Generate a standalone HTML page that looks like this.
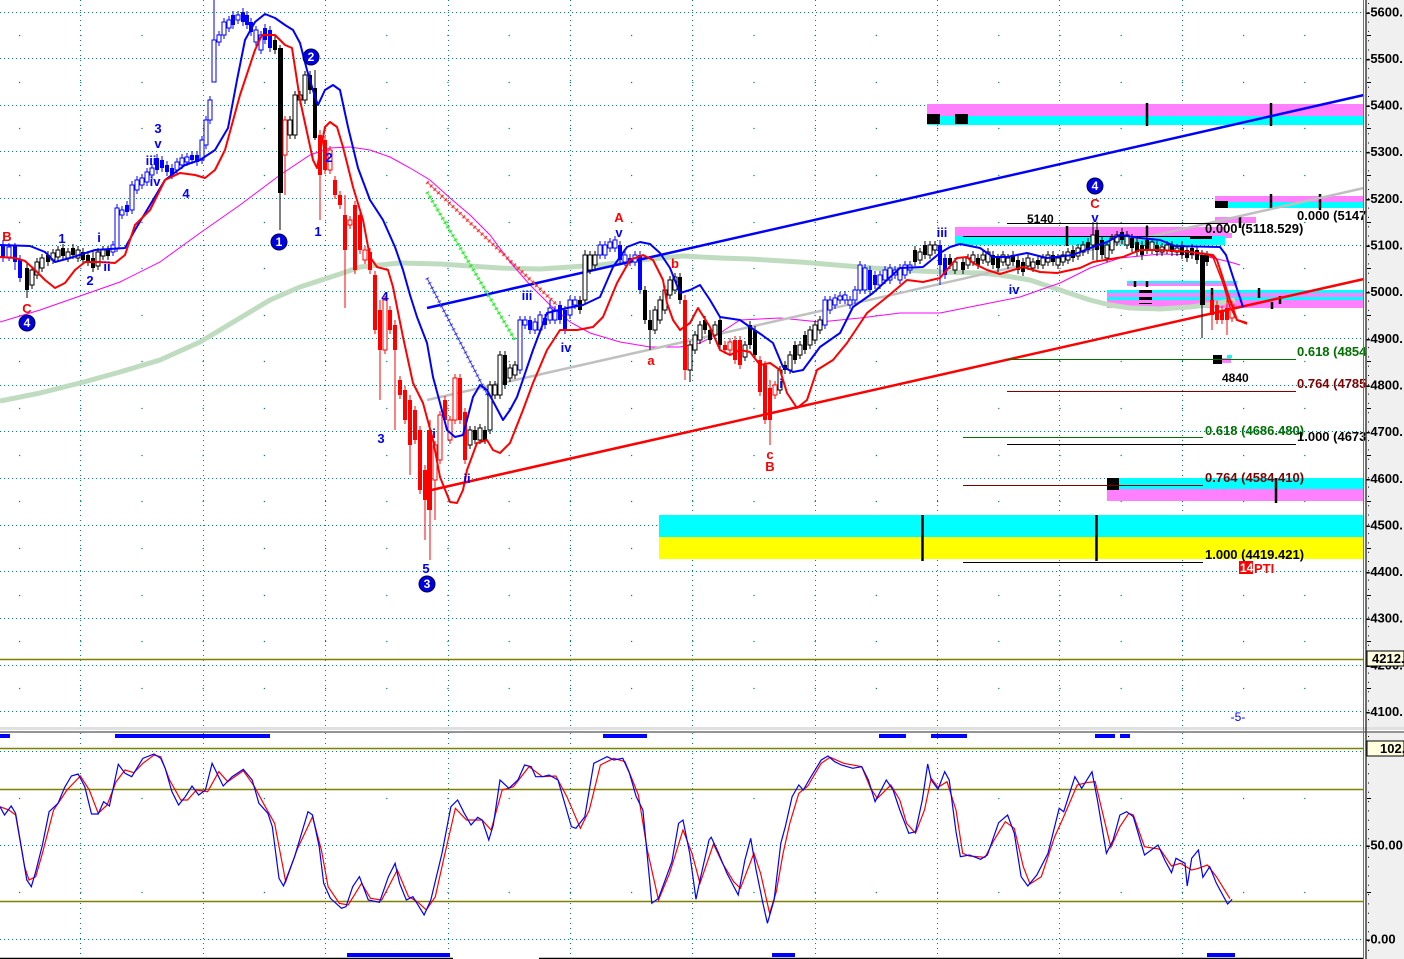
<!DOCTYPE html>
<html><head><meta charset="utf-8"><style>
html,body{margin:0;padding:0;background:#fff;overflow:hidden}
svg{display:block}
.wl{font:bold 13px "Liberation Sans",sans-serif;text-anchor:middle}
.fb{font:bold 13px "Liberation Sans",sans-serif}
.ax{font:bold 13px "Liberation Sans",sans-serif;fill:#000}
</style></head><body>
<svg width="1404" height="959" viewBox="0 0 1404 959" xmlns="http://www.w3.org/2000/svg">
<rect width="1404" height="959" fill="#fff"/>
<!-- main grid -->
<path d="M0 12.5H1364M0 58.5H1364M0 105.5H1364M0 151.5H1364M0 198.5H1364M0 245.5H1364M0 291.5H1364M0 338.5H1364M0 385.5H1364M0 431.5H1364M0 478.5H1364M0 525.5H1364M0 571.5H1364M0 618.5H1364M0 665.5H1364M0 711.5H1364" stroke="#008080" stroke-width="1" stroke-dasharray="1 3" fill="none"/>
<path d="M19 35.5H1364M19 82.5H1364M19 128.5H1364M19 175.5H1364M19 222.5H1364M19 268.5H1364M19 315.5H1364M19 361.5H1364M19 408.5H1364M19 455.5H1364M19 501.5H1364M19 548.5H1364M19 595.5H1364M19 641.5H1364M19 688.5H1364" stroke="#008080" stroke-width="1.2" stroke-dasharray="1.2 60" fill="none"/>
<path d="M80.5 0V727M203.5 0V727M325.5 0V727M448.5 0V727M570.5 0V727M692.5 0V727M815.5 0V727M937.5 0V727M1059.5 0V727M1182.5 0V727" stroke="#008080" stroke-width="1" stroke-dasharray="1 4" fill="none"/>
<!-- lower grid -->
<path d="M80.5 733V959M203.5 733V959M325.5 733V959M448.5 733V959M570.5 733V959M692.5 733V959M815.5 733V959M937.5 733V959M1059.5 733V959M1182.5 733V959" stroke="#008080" stroke-width="1" stroke-dasharray="1 4" fill="none"/>
<path d="M0 751.5H1364M0 845.5H1364M0 939.5H1364" stroke="#008080" stroke-width="1" stroke-dasharray="1 3" fill="none"/>
<path d="M19 798.5H1364M19 892.5H1364" stroke="#008080" stroke-width="1.2" stroke-dasharray="1.2 60" fill="none"/>
<!-- olive line main -->
<path d="M0 659.5H1364" stroke="#808000" stroke-width="1.5"/>
<!-- bands -->
<rect x="927" y="104" width="437" height="12" fill="#ff80ff"/>
<rect x="927" y="116" width="437" height="9" fill="#00ffff"/>
<rect x="927" y="114" width="13" height="10" fill="#000"/>
<rect x="955" y="114" width="13" height="10" fill="#000"/>
<rect x="1215" y="196" width="149" height="6" fill="#ff80ff"/>
<rect x="1215" y="202" width="149" height="6" fill="#00ffff"/>
<rect x="1215" y="201" width="13" height="7" fill="#000"/>
<rect x="1215" y="217" width="41" height="6" fill="#ff80ff"/>
<rect x="955" y="227" width="270" height="9" fill="#ff80ff"/>
<rect x="955" y="236" width="270" height="9" fill="#00ffff"/>
<rect x="1225" y="233" width="7" height="5" fill="#ff80ff"/>
<rect x="1127" y="281" width="110" height="2" fill="#00ffff"/>
<rect x="1127" y="283" width="110" height="3" fill="#ff80ff"/>
<rect x="1107" y="290" width="257" height="3" fill="#00ffff"/>
<rect x="1107" y="293" width="257" height="4" fill="#ff80ff"/>
<rect x="1107" y="297" width="257" height="3" fill="#00ffff"/>
<rect x="1107" y="300" width="257" height="8" fill="#ff80ff"/>
<rect x="1139" y="290" width="13" height="3" fill="#000"/>
<rect x="1139" y="297" width="13" height="3" fill="#000"/>
<rect x="1139" y="303" width="13" height="1" fill="#000"/>
<rect x="1222" y="358" width="9" height="5" fill="#ff80ff"/>
<rect x="1227" y="355" width="5" height="3" fill="#00ffff"/>
<rect x="1213" y="355" width="9" height="9" fill="#000"/>
<rect x="1107" y="478" width="257" height="11" fill="#00ffff"/>
<rect x="1107" y="489" width="257" height="12" fill="#ff80ff"/>
<rect x="1107" y="478" width="12" height="12" fill="#000"/>
<rect x="659" y="515" width="705" height="22" fill="#00ffff"/>
<rect x="659" y="537" width="705" height="22" fill="#ffff00"/>
<path d="M1147 103V126M1271 103V126M1271 194V210M1320 194V210M1067 226V246M1147 226V246M1240 216V228M1276 478V503M922.5 515V561M1096.5 515V561M1135 281V287M1147 281V287M1212 288V300M1259 288V298M1272 302V309M1280 296V304" stroke="#000" stroke-width="2.5"/>
<rect x="1190" y="236" width="22" height="3" fill="#000"/>
<!-- moving averages -->
<polyline fill="none" stroke="#c0dcc0" stroke-width="5" stroke-linejoin="round" points="0,401 40,393 80,383 120,372 160,360 200,342 240,318 270,300 300,287 343,273 360,267 400,263 440,264 500,268 540,269 600,265 640,260 683,256 720,258 750,259 800,262 860,267 900,270 940,272 980,273 1000,275 1030,280 1060,290 1090,300 1110,305 1130,308 1160,309 1190,307 1215,304 1235,300"/>
<polyline fill="none" stroke="#ff00ff" stroke-width="1" points="0,322 40,310 80,296 120,282 160,262 200,233 240,205 280,175 310,155 330,148 350,147 370,150 390,157 410,168 430,180 450,198 470,215 490,235 510,262 530,285 550,305 570,322 590,333 620,342 650,347 680,347 700,343 720,333 740,320 780,318 820,322 860,318 900,313 940,313 980,305 1020,297 1060,283 1090,268 1120,258 1160,254 1200,255 1230,262 1240,265"/>
<!-- trend lines -->
<line x1="427" y1="400" x2="1364" y2="188" stroke="#c0c0c0" stroke-width="2.5"/>
<line x1="427" y1="308" x2="1364" y2="95" stroke="#0000ff" stroke-width="2.5"/>
<line x1="427" y1="491" x2="1364" y2="279" stroke="#ff0000" stroke-width="2.5"/>
<!-- x-lines -->
<line x1="427" y1="182" x2="557" y2="305" stroke="#ff6060" stroke-width="1"/>
<line x1="427" y1="182" x2="557" y2="305" stroke="#ff0000" stroke-width="4" stroke-dasharray="1.5 3.5" opacity="0.7"/>
<line x1="427" y1="192" x2="515" y2="340" stroke="#40ff40" stroke-width="1"/>
<line x1="427" y1="192" x2="515" y2="340" stroke="#00e000" stroke-width="4" stroke-dasharray="1.5 3.5" opacity="0.7"/>
<line x1="427" y1="278" x2="489" y2="398" stroke="#4040ff" stroke-width="1"/>
<line x1="427" y1="278" x2="489" y2="398" stroke="#0000ff" stroke-width="4" stroke-dasharray="1.2 4" opacity="0.6"/>
<!-- fib lines -->
<path d="M1007 223.5H1228M963 236.5H1203M1007 444.5H1296M963 562.5H1203" stroke="#000" stroke-width="1"/>
<path d="M1007 359.5H1296M963 437.5H1203" stroke="#007000" stroke-width="1"/>
<path d="M1007 391.5H1296M963 485.5H1203" stroke="#800000" stroke-width="1"/>
<!-- candles: blue filled -->
<path fill="none" stroke="#0000ff" stroke-width="1" d="M3 240V262M15 243V270M20 255V282M127 201V216M157 154V174M162 156V172M167 161V176M172 164V179M192 151V164M197 151V166M233 11V29M243 8V26M247 11V29M251 18V36M265 24V44M270 26V52M530 316V334M545 314V329M560 301V324M565 306V334M620 241V264M630 254V266M640 251V294M870 266V294M875 271V289M940 240V285M945 254V279"/>
<path fill="#0000ff" d="M1 245h4v13h-4zM13 246h4v16h-4zM18 260h4v18h-4zM125 205h4v7h-4zM155 158h4v12h-4zM160 160h4v8h-4zM165 165h4v7h-4zM170 168h4v7h-4zM190 155h4v5h-4zM195 155h4v7h-4zM231 15h4v10h-4zM241 12h4v10h-4zM245 15h4v10h-4zM249 22h4v10h-4zM263 28h4v12h-4zM268 30h4v18h-4zM528 320h4v10h-4zM543 318h4v7h-4zM558 305h4v15h-4zM563 310h4v20h-4zM618 245h4v15h-4zM628 258h4v4h-4zM638 255h4v35h-4zM868 270h4v20h-4zM873 275h4v10h-4zM938 245h4v20h-4zM943 258h4v17h-4z"/>
<!-- blue hollow -->
<path fill="none" stroke="#0000ff" stroke-width="1" d="M9 243V261M113 241V256M117 204V252M122 206V219M132 181V214M137 176V194M142 174V189M147 168V186M152 164V179M177 158V174M182 154V169M187 153V166M202 136V164M206 116V149M210 96V124M214 0V82M219 31V46M224 18V39M229 16V32M238 11V24M256 26V46M261 31V54M520 316V374M525 316V329M535 318V334M540 311V334M550 300V324M555 306V324M570 296V319M575 296V309M600 241V259M605 241V259M610 238V252M615 236V252M625 251V266M635 251V266M825 296V329M830 296V314M835 294V309M840 292V304M845 291V304M850 296V309M855 286V304M860 261V294M865 264V294M880 271V289M885 266V284M890 264V284M895 266V279M900 264V284M905 261V279M910 261V274"/>
<path fill="#fff" stroke="#0000ff" stroke-width="1" d="M7 247h4v10h-4zM111 245h4v7h-4zM115 208h4v40h-4zM120 210h4v5h-4zM130 185h4v25h-4zM135 180h4v10h-4zM140 178h4v7h-4zM145 172h4v10h-4zM150 168h4v7h-4zM175 162h4v8h-4zM180 158h4v7h-4zM185 157h4v5h-4zM200 140h4v20h-4zM204 120h4v25h-4zM208 100h4v20h-4zM212 40h4v42h-4zM217 35h4v7h-4zM222 22h4v13h-4zM227 20h4v8h-4zM236 15h4v5h-4zM254 30h4v12h-4zM259 35h4v15h-4zM518 320h4v50h-4zM523 320h4v5h-4zM533 322h4v8h-4zM538 315h4v15h-4zM548 308h4v12h-4zM553 310h4v10h-4zM568 300h4v15h-4zM573 300h4v5h-4zM598 245h4v10h-4zM603 245h4v10h-4zM608 242h4v6h-4zM613 240h4v8h-4zM623 255h4v7h-4zM633 255h4v7h-4zM823 300h4v25h-4zM828 300h4v10h-4zM833 298h4v7h-4zM838 296h4v4h-4zM843 295h4v5h-4zM848 300h4v5h-4zM853 290h4v10h-4zM858 265h4v25h-4zM863 268h4v22h-4zM878 275h4v10h-4zM883 270h4v10h-4zM888 268h4v12h-4zM893 270h4v5h-4zM898 268h4v12h-4zM903 265h4v10h-4zM908 265h4v5h-4z"/>
<!-- black -->
<path fill="none" stroke="#000" stroke-width="1" d="M27 262V298M48 251V266M63 244V260M73 244V259M83 248V264M88 251V266M93 250V272M108 246V260M275 36V54M280 45V230M310 71V94M315 70V140M475 426V444M485 426V444M505 351V389M580 296V314M645 286V324M650 310V350M680 273V304M705 316V334M710 326V344M720 316V349M750 321V349M755 326V359M785 361V374M795 341V364M805 331V354M915 246V266M925 241V259M950 254V269M963 258V274M978 254V269M993 251V269M998 254V272M1013 251V266M1018 256V274M1023 258V276M1038 256V269M1053 251V266M1073 246V262M1088 238V254M1097 222V262M1102 236V259M1122 228V244M1132 234V252M1137 238V256M1142 241V260M1147 225V254M1157 241V256M1172 241V256M1182 241V259M1187 246V262M1192 244V259M1197 246V264M1202 250V338M1207 251V266"/>
<path fill="#000" d="M25 268h4v22h-4zM46 255h4v7h-4zM61 248h4v8h-4zM71 248h4v7h-4zM81 252h4v8h-4zM86 255h4v7h-4zM91 258h4v10h-4zM106 250h4v6h-4zM273 40h4v10h-4zM278 48h5v145h-5zM308 75h4v15h-4zM313 88h4v50h-4zM473 430h4v10h-4zM483 430h4v10h-4zM503 355h4v30h-4zM578 300h4v10h-4zM643 290h4v30h-4zM648 320h4v10h-4zM678 277h4v23h-4zM703 320h4v10h-4zM708 330h4v10h-4zM718 320h4v25h-4zM748 325h4v20h-4zM753 330h4v25h-4zM783 365h4v5h-4zM793 345h4v15h-4zM803 335h4v15h-4zM913 250h4v12h-4zM923 245h4v10h-4zM948 258h4v7h-4zM961 262h4v8h-4zM976 258h4v7h-4zM991 255h4v10h-4zM996 258h4v10h-4zM1011 255h4v7h-4zM1016 260h4v10h-4zM1021 262h4v10h-4zM1036 260h4v5h-4zM1051 255h4v7h-4zM1071 250h4v8h-4zM1086 242h4v8h-4zM1095 230h4v20h-4zM1100 240h4v15h-4zM1120 232h4v8h-4zM1130 238h4v10h-4zM1135 242h4v10h-4zM1140 245h4v10h-4zM1145 240h4v10h-4zM1155 245h4v7h-4zM1170 245h4v7h-4zM1180 245h4v10h-4zM1185 250h4v8h-4zM1190 248h4v7h-4zM1195 250h4v10h-4zM1200 255h5v50h-5zM1205 255h4v7h-4z"/>
<!-- white -->
<path fill="none" stroke="#000" stroke-width="1" d="M32 266V289M37 258V279M42 254V272M53 249V264M58 246V261M68 248V262M78 246V262M98 248V270M103 246V260M290 116V139M295 91V139M300 91V104M305 71V104M470 426V449M480 424V444M490 381V434M495 381V399M500 351V399M510 364V382M515 361V379M585 250V304M590 251V274M595 251V269M655 306V334M660 296V324M665 286V314M670 276V299M675 273V294M690 341V382M695 331V354M700 321V344M715 321V339M745 341V361M780 366V394M790 351V374M800 341V359M810 326V349M815 321V344M820 316V334M920 248V264M930 241V259M935 241V254M955 258V274M968 254V269M973 251V266M983 251V264M988 248V266M1003 251V266M1008 254V269M1028 254V270M1033 258V272M1043 254V269M1048 251V266M1058 254V269M1063 251V266M1068 248V264M1078 244V260M1083 241V256M1093 222V260M1107 241V262M1112 234V254M1117 231V246M1127 231V249M1152 238V254M1162 243V256M1167 241V254M1177 244V256"/>
<path fill="#fff" stroke="#000" stroke-width="1" d="M30 270h4v15h-4zM35 262h4v13h-4zM40 258h4v10h-4zM51 253h4v7h-4zM56 250h4v7h-4zM66 252h4v6h-4zM76 250h4v8h-4zM96 252h4v14h-4zM101 250h4v6h-4zM288 120h4v15h-4zM293 95h4v40h-4zM298 95h4v5h-4zM303 75h4v25h-4zM468 430h4v15h-4zM478 428h4v12h-4zM488 385h4v45h-4zM493 385h4v10h-4zM498 355h4v40h-4zM508 368h4v10h-4zM513 365h4v10h-4zM583 255h4v45h-4zM588 255h4v15h-4zM593 255h4v10h-4zM653 310h4v20h-4zM658 300h4v20h-4zM663 290h4v20h-4zM668 280h4v15h-4zM673 277h4v13h-4zM688 345h4v25h-4zM693 335h4v15h-4zM698 325h4v15h-4zM713 325h4v10h-4zM743 345h4v12h-4zM778 370h4v20h-4zM788 355h4v15h-4zM798 345h4v10h-4zM808 330h4v15h-4zM813 325h4v15h-4zM818 320h4v10h-4zM918 252h4v8h-4zM928 245h4v10h-4zM933 245h4v5h-4zM953 262h4v8h-4zM966 258h4v7h-4zM971 255h4v7h-4zM981 255h4v5h-4zM986 252h4v10h-4zM1001 255h4v7h-4zM1006 258h4v7h-4zM1026 258h4v8h-4zM1031 262h4v6h-4zM1041 258h4v7h-4zM1046 255h4v7h-4zM1056 258h4v7h-4zM1061 255h4v7h-4zM1066 252h4v8h-4zM1076 248h4v8h-4zM1081 245h4v7h-4zM1091 235h4v10h-4zM1105 245h4v13h-4zM1110 238h4v12h-4zM1115 235h4v7h-4zM1125 235h4v10h-4zM1150 242h4v8h-4zM1160 247h4v5h-4zM1165 245h4v5h-4zM1175 248h4v4h-4z"/>
<!-- red filled -->
<path fill="none" stroke="#ff0000" stroke-width="1" d="M320 130V220M325 136V174M335 176V199M340 191V209M345 195V308M355 201V274M360 211V254M370 248V274M375 271V334M380 300V400M390 306V334M395 320V430M400 376V399M405 386V424M410 395V475M415 406V444M420 426V494M425 465V540M430 420V560M445 396V424M460 374V424M465 408V464M685 295V380M725 341V354M735 336V364M740 336V369M760 356V396M765 361V424M770 380V445M1212 295V330M1217 301V324M1222 306V324M1227 298V335"/>
<path fill="#ff0000" d="M318 135h4v40h-4zM323 140h4v30h-4zM333 180h4v15h-4zM338 195h4v10h-4zM343 215h4v35h-4zM353 205h4v65h-4zM358 215h4v35h-4zM368 252h4v18h-4zM373 275h4v55h-4zM378 310h4v40h-4zM388 310h4v20h-4zM393 325h4v25h-4zM398 380h4v15h-4zM403 390h4v30h-4zM408 400h4v45h-4zM413 410h4v30h-4zM418 430h4v60h-4zM423 470h4v30h-4zM427 430h5v80h-5zM443 400h4v20h-4zM458 378h4v42h-4zM463 412h4v48h-4zM683 300h4v70h-4zM723 345h4v5h-4zM733 340h4v20h-4zM738 340h4v25h-4zM758 360h4v32h-4zM763 365h4v55h-4zM768 388h4v32h-4zM1210 300h4v15h-4zM1215 305h4v15h-4zM1220 310h4v10h-4zM1225 308h4v12h-4z"/>
<!-- red hollow -->
<path fill="none" stroke="#ff0000" stroke-width="1" d="M285 116V195M330 146V174M350 216V229M365 246V264M385 296V354M435 441V520M440 411V464M450 416V444M455 374V424M730 338V354M775 381V399M1232 301V322"/>
<path fill="#fff" stroke="#ff0000" stroke-width="1" d="M283 120h4v35h-4zM328 150h4v20h-4zM348 220h4v5h-4zM363 250h4v10h-4zM383 300h4v50h-4zM433 445h4v35h-4zM438 415h4v45h-4zM448 420h4v20h-4zM453 378h4v42h-4zM728 342h4v8h-4zM773 385h4v10h-4zM1230 305h4v13h-4z"/>
<!-- envelopes -->
<polyline fill="none" stroke="#0000ff" stroke-width="2" stroke-linejoin="round" points="0,245 30,246 45,252 55,262 70,258 95,250 125,248 135,230 150,205 165,180 185,165 200,160 215,150 228,128 237,80 245,40 255,22 265,14 275,18 285,25 293,30 300,43 307,70 315,97 318,105 325,90 333,85 340,90 348,127 358,168 370,200 383,220 395,247 403,270 410,295 417,317 427,343 433,377 440,403 447,430 455,437 463,435 473,397 480,385 487,390 495,405 503,420 510,410 517,397 533,350 547,313 567,308 583,305 600,297 613,267 627,247 640,242 650,244 660,253 670,268 680,293 690,290 700,285 710,300 720,317 740,320 750,327 762,335 773,343 783,367 793,372 803,370 820,347 840,333 853,307 873,293 900,268 923,267 940,253 950,247 960,244 980,248 993,257 1007,257 1027,253 1047,258 1073,255 1090,248 1107,242 1120,235 1140,238 1160,240 1175,246 1220,247 1226,255 1233,277 1243,307"/>
<polyline fill="none" stroke="#ff0000" stroke-width="2" stroke-linejoin="round" points="0,257 15,258 25,261 35,270 45,280 55,288 65,283 75,270 85,262 100,262 115,263 125,255 135,225 150,210 165,180 180,173 195,175 205,178 215,170 225,150 240,95 255,50 262,35 275,35 285,45 292,48 300,100 313,160 317,168 325,127 330,122 337,127 343,147 353,187 363,220 370,257 377,267 388,270 393,287 403,337 413,383 423,403 433,440 440,477 450,502 457,503 463,490 467,470 477,443 487,440 493,450 500,453 510,443 523,410 533,383 547,350 560,330 577,330 593,327 603,317 617,283 630,260 643,255 653,260 663,280 667,303 673,320 680,330 690,323 698,308 710,327 720,350 730,355 740,350 750,352 760,365 770,363 780,370 787,393 797,408 807,400 817,370 833,360 847,343 867,313 887,297 907,280 923,282 940,278 957,258 967,257 973,263 987,270 1000,274 1023,267 1040,272 1057,273 1080,268 1093,262 1123,257 1140,250 1160,250 1190,252 1213,255 1217,260 1230,300 1237,320 1247,323"/>
<polyline fill="none" stroke="#ff0000" stroke-width="1.5" points="1203,253 1213,257 1223,283 1230,307 1237,320 1247,324"/>
<!-- wave labels -->
<g class="wl" fill="#0000ff">
<text x="62" y="243">1</text><text x="90" y="285">2</text><text x="99" y="242">i</text><text x="107" y="271">ii</text>
<text x="158" y="133">3</text><text x="158" y="148">v</text><text x="151" y="165">iii</text><text x="155" y="186">iv</text><text x="186" y="198">4</text>
<text x="318" y="236">1</text><text x="329" y="162">2</text><text x="385" y="301">4</text><text x="381" y="443">3</text><text x="426" y="573">5</text>
<text x="434" y="438">i</text><text x="467" y="483">ii</text><text x="527" y="300">iii</text><text x="566" y="352">iv</text><text x="619" y="237">v</text>
<text x="781" y="388">i</text><text x="942" y="237">iii</text><text x="1014" y="294">iv</text><text x="1095" y="222">v</text>
</g>
<g class="wl" fill="#ff0000">
<text x="7" y="241">B</text><text x="27" y="313">C</text><text x="619" y="222">A</text><text x="651" y="365">a</text><text x="675" y="268">b</text>
<text x="770" y="459">c</text><text x="770" y="471">B</text><text x="1095" y="208">C</text>
</g>
<g stroke="#000050" stroke-width="1" fill="#0000e0">
<circle cx="27" cy="323" r="8"/><circle cx="279" cy="242" r="8"/><circle cx="311" cy="57" r="8"/><circle cx="427" cy="584" r="8"/><circle cx="1095" cy="186" r="8"/>
</g>
<g font-family="Liberation Sans, sans-serif" font-weight="bold" font-size="12" fill="#fff" text-anchor="middle">
<text x="27" y="327">4</text><text x="279" y="246">1</text><text x="311" y="61">2</text><text x="427" y="588">3</text><text x="1095" y="190">4</text>
</g>
<text x="1238" y="721" font-family="Liberation Sans, sans-serif" font-size="12" fill="#0000ff" text-anchor="middle">-5-</text>
<!-- fib labels -->
<g class="fb">
<text x="1027" y="223" fill="#000" font-size="12">5140</text>
<text x="1205" y="233" fill="#000">0.000 (5118.529)</text>
<text x="1297" y="220" fill="#000">0.000 (5147</text>
<text x="1297" y="356" fill="#007000">0.618 (4854</text>
<text x="1222" y="382" fill="#000" font-size="12">4840</text>
<text x="1297" y="388" fill="#800000">0.764 (4785</text>
<text x="1205" y="435" fill="#007000">0.618 (4686.480)</text>
<text x="1297" y="441" fill="#000">1.000 (4673</text>
<text x="1205" y="482" fill="#800000">0.764 (4584.410)</text>
<text x="1205" y="559" fill="#000">1.000 (4419.421)</text>
</g>
<rect x="1239" y="561" width="14" height="13" fill="#ff0000"/>
<text x="1240" y="572" font-family="Liberation Sans, sans-serif" font-weight="bold" font-size="12" fill="#fff">14</text>
<text x="1254" y="573" font-family="Liberation Sans, sans-serif" font-weight="bold" font-size="13" fill="#ff0000">PTI</text>
<!-- lower panel -->
<path d="M0 748.5H1364M0 789.5H1364M0 901.5H1364" stroke="#808000" stroke-width="1.5"/>
<polyline fill="none" stroke="#ff0000" stroke-width="1.2" points="0,806.7 8.9,810 15.6,815 24.6,866.7 29,880 35.7,876.7 42.4,853.3 53.6,810 67,790 80.4,776 89.3,790 98.2,813.3 107.1,805 116.1,781.7 125,770 133.9,772.7 142.9,763.3 154,755 160.7,756.7 169.6,780 180.8,800 187.5,800 196.4,790 207.6,791.7 218.8,771.7 227.7,781.7 243.3,770.7 254.5,786.7 263.4,803.3 274.6,823.3 285.7,881.7 296.9,850 312.5,816.7 321.4,850 328.1,886.7 339.3,903.3 348.2,905 361.6,883.3 370.5,898.3 381.7,900 397.3,870 408.5,896.7 417.4,901.7 426.3,910 435.3,896.7 444.2,856.7 455.4,808.3 466.5,820 482.1,820 491.1,830 502.2,790 513.4,786.7 529,766.7 542.4,776.7 555.8,776 566.9,796.7 580.4,828.3 589.3,810 600.4,765 613.8,758.3 625,761.7 638.4,795 647.3,850 658.5,900 669.6,873.3 683,830 692,853.3 700,883.3 713.5,844 722.5,863.3 733.7,881.7 740.4,888.3 753.9,853.3 760.6,873.3 769.6,913.3 776.3,891.7 783.1,853.3 789.8,823.3 798.8,793.3 807.8,786 821.2,763.3 830.2,757.3 843.7,763.3 861.7,766.7 870.6,788.3 877.4,798.3 890.8,785 899.8,800 906.6,823.3 915.5,833.3 924.5,810 931.2,778.3 938,787.3 947,781.7 956,810 962.7,853.3 969.4,856 985.1,857.3 994.1,840 1005.3,821.7 1014.3,828.3 1023.3,866.7 1030,884 1041.3,876.7 1054.7,836.7 1063.7,816.7 1077.2,785 1086.2,782.7 1095.2,781.7 1101.9,810 1110.9,847.3 1119.9,826.7 1128.8,813.3 1133.3,815 1144.5,846.7 1160.2,849.3 1171.5,866 1180.4,863.3 1191.7,870 1198.4,868.3 1207.4,865 1216.4,876.7 1230,898.7"/>
<polyline fill="none" stroke="#0000ff" stroke-width="1.2" points="0,806.7 4.5,815 11.2,806 15.6,813.3 20.1,840 26.8,880 31.3,886.7 35.7,871.7 42.4,845 49.1,811.7 58,803.3 64.7,787.3 71.4,776 78.1,774 84.8,786.7 91.5,814 98.2,814 103.6,801.7 109.4,806 118.3,764.3 125,773.3 131.7,776.7 142.9,758.3 154,754 160.7,758.3 165.2,768.3 171.9,791.7 178.6,805 185.3,796.7 192,786 198.7,795 205.4,790 212.1,763.3 223.2,786 232.1,776.7 243.3,769.3 252.2,780 258.9,803.3 267.9,813.3 272.3,826.7 279,878.3 283.5,886 294.6,856.7 308,811.7 312.5,815 319.2,846.7 323.7,883.3 330.4,898.3 341.5,908.3 346,906.7 352.7,886.7 359.4,876.7 368.3,900 379.5,902.3 388.4,876.7 395.1,863.3 399.6,883.3 406.3,900 412.9,896.7 424.1,915 430.8,900 442,853.3 450.9,806.7 457.6,800 464.3,813.3 471,825 477.7,817.3 482.1,820 488.8,840 493.3,825 500,780 508.9,788.3 517.9,780 524.6,765 531.3,766.7 535.7,776.7 542.4,776.7 549.1,775 558,780 564.7,803.3 571.4,826.7 575.9,828.3 584.8,816.7 593.8,763.3 600.4,760 607.1,756.7 613.8,760 622.8,758.3 629.5,773.3 636.2,796.7 642.9,810 651.8,903.3 658.5,898.3 671.9,861.7 678.6,823.3 683,820 689.7,853.3 696,899.3 700,880 709,840 711.2,837.3 718,851.7 726.9,873.3 738.2,895 744.9,860 750.7,838.3 756.1,870 762.9,903.3 767.4,923.3 774.1,900 780.8,843.3 785.3,826.7 792.1,796.7 798.8,785 803.3,790 810,778.3 821.2,760 828,756 834.7,761.7 841.4,765 852.7,768.3 861.7,766.7 868.4,780 875.1,801.7 886.3,780 893.1,790 899.8,810 908.8,833.3 915.5,831.7 922.3,800 927.7,764 931.2,780 938,789.3 944.7,771.7 949.2,780 956,831.7 960.4,856.7 969.4,855 980.6,859.3 987.4,855 998.6,822.7 1007.6,815 1014.3,833.3 1021.1,876.7 1027.8,886 1036.8,875 1048,853.3 1059.2,808.3 1063.7,811.7 1074.9,776.7 1081.7,788.3 1092,771.7 1097.4,800 1106.4,853.3 1113.1,840 1119.9,815 1126.6,811.7 1133.3,816.7 1144.5,855 1158,845 1164.7,860 1171.5,872.7 1176,858.3 1185,863.3 1187.2,886 1191.7,858.3 1198.4,850 1202.9,877.3 1209.7,866.7 1216.4,883.3 1227.6,904 1232.1,899.3"/>
<g fill="#0000ff">
<rect x="0" y="734" width="10" height="4"/><rect x="115" y="734" width="155" height="4"/><rect x="603" y="734" width="44" height="4"/><rect x="879" y="734" width="27" height="4"/><rect x="931" y="734" width="36" height="4"/><rect x="1095" y="734" width="20" height="4"/><rect x="1120" y="734" width="10" height="4"/>
<rect x="347" y="953" width="103" height="4"/><rect x="772" y="953" width="23" height="4"/><rect x="1207" y="953" width="28" height="4"/>
</g>
<path d="M0 958.5H453M539 958.5H1364" stroke="#000" stroke-width="1.5"/>
<!-- separator -->
<rect x="0" y="727" width="1404" height="3" fill="#e0e0e0"/>
<path d="M0 732H1404" stroke="#707070" stroke-width="1.5"/>
<!-- axis -->
<rect x="1366" y="0" width="38" height="727" fill="#f0f0f0"/>
<rect x="1366" y="733" width="38" height="226" fill="#f0f0f0"/>
<path d="M1363.5 0V959" stroke="#808000" stroke-width="1"/>
<path d="M1366 0V959" stroke="#404040" stroke-width="1.5"/>
<path d="M1368.5 3V727M1368.5 736V959" stroke="#000" stroke-width="1" stroke-dasharray="1 8.3"/>
<path d="M1367 35.5h4M1367 82.5h4M1367 128.5h4M1367 175.5h4M1367 222.5h4M1367 268.5h4M1367 315.5h4M1367 361.5h4M1367 408.5h4M1367 455.5h4M1367 501.5h4M1367 548.5h4M1367 595.5h4M1367 641.5h4M1367 688.5h4M1367 798.5h4M1367 892.5h4" stroke="#000" stroke-width="1"/>
<g class="ax">
<text x="1366" y="16.5">-5600.</text><text x="1366" y="63">-5500.</text><text x="1366" y="109.5">-5400.</text><text x="1366" y="156">-5300.</text>
<text x="1366" y="203">-5200.</text><text x="1366" y="249.5">-5100.</text><text x="1366" y="296">-5000.</text><text x="1366" y="343">-4900.</text>
<text x="1366" y="389.5">-4800.</text><text x="1366" y="436">-4700.</text><text x="1366" y="483">-4600.</text><text x="1366" y="529.5">-4500.</text>
<text x="1366" y="576">-4400.</text><text x="1366" y="622.5">-4300.</text><text x="1366" y="669.5">-4200.</text><text x="1366" y="716">-4100.</text>
<text x="1366" y="849.5">-50.00</text><text x="1366" y="943.5">-0.00</text>
</g>
<rect x="1367" y="651" width="37" height="15" fill="#ffffe0" stroke="#000" stroke-width="1"/>
<text x="1372" y="663" class="ax">4212.</text>
<rect x="1367" y="741" width="37" height="15" fill="#ffffe0" stroke="#000" stroke-width="1"/>
<text x="1380" y="753" class="ax">102.</text>
</svg>
</body></html>
